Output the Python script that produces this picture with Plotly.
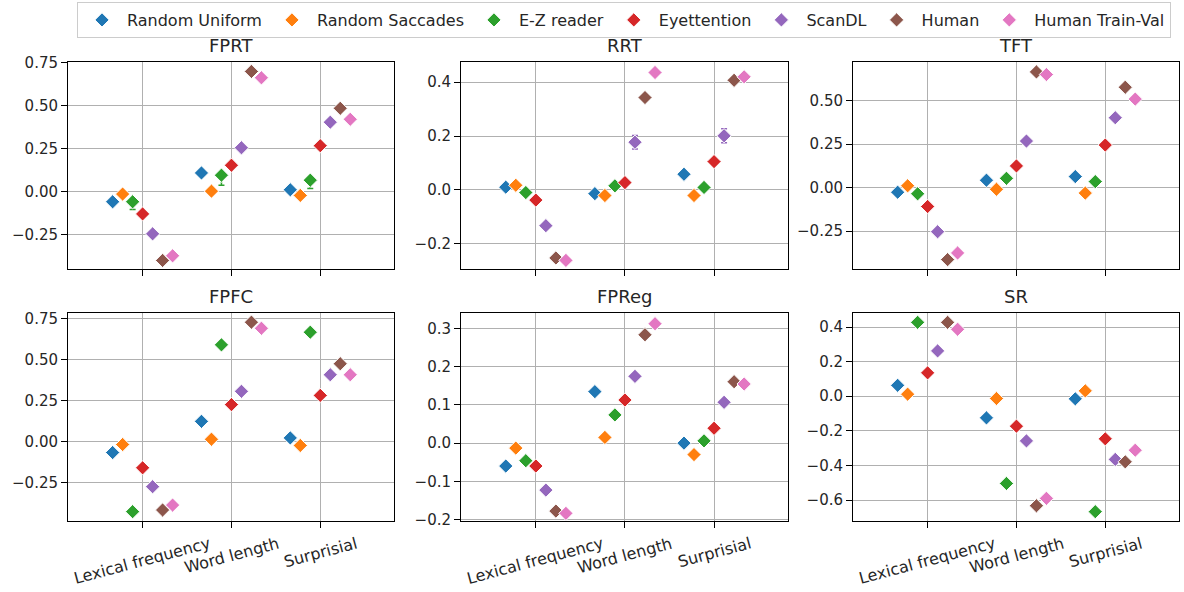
import plotly.graph_objects as go

SERIES = ["Random Uniform", "Random Saccades", "E-Z reader", "Eyettention",
          "ScanDL", "Human", "Human Train-Val"]
COLORS = ["#1f77b4", "#ff7f0e", "#2ca02c", "#d62728", "#9467bd", "#8c564b", "#e377c2"]
CATEGORIES = ["Lexical frequency", "Word length", "Surprisial"]
METRICS = ["FPRT", "RRT", "TFT", "FPFC", "FPReg", "SR"]

# values[series][category]
FPRT = [[-0.060, 0.108, 0.010],
        [-0.015, 0.002, -0.023],
        [-0.060, 0.095, 0.066],
        [-0.131, 0.153, 0.267],
        [-0.247, 0.255, 0.404],
        [-0.402, 0.700, 0.485],
        [-0.375, 0.663, 0.421]]
RRT = [[0.010, -0.014, 0.058],
       [0.017, -0.021, -0.021],
       [-0.010, 0.015, 0.009],
       [-0.038, 0.027, 0.105],
       [-0.133, 0.177, 0.201],
       [-0.253, 0.343, 0.407],
       [-0.262, 0.436, 0.420]]
TFT = [[-0.027, 0.042, 0.063],
       [0.010, -0.010, -0.032],
       [-0.036, 0.053, 0.034],
       [-0.109, 0.124, 0.244],
       [-0.254, 0.267, 0.401],
       [-0.414, 0.664, 0.576],
       [-0.376, 0.649, 0.508]]
FPFC = [[-0.067, 0.123, 0.022],
        [-0.018, 0.014, -0.024],
        [-0.427, 0.589, 0.666],
        [-0.160, 0.225, 0.281],
        [-0.275, 0.306, 0.407],
        [-0.417, 0.727, 0.474],
        [-0.387, 0.690, 0.407]]
FPREG = [[-0.060, 0.135, 0.000],
         [-0.013, 0.015, -0.030],
         [-0.046, 0.074, 0.006],
         [-0.060, 0.113, 0.039],
         [-0.123, 0.175, 0.107],
         [-0.178, 0.284, 0.161],
         [-0.184, 0.313, 0.155]]
SR = [[0.063, -0.125, -0.015],
      [0.012, -0.013, 0.031],
      [0.427, -0.504, -0.667],
      [0.135, -0.173, -0.246],
      [0.262, -0.258, -0.365],
      [0.427, -0.633, -0.379],
      [0.387, -0.590, -0.312]]

# error bars (upper, lower) per series per category
FPRT_ERR_UP = [[0.005, 0.005, 0.005], [0.005, 0.005, 0.005], [0.010, 0.010, 0.010],
               [0.005, 0.005, 0.005], [0.005, 0.005, 0.005], [0.005, 0.005, 0.005],
               [0.005, 0.005, 0.005]]
FPRT_ERR_DN = [[0.005, 0.005, 0.005], [0.005, 0.005, 0.005], [0.045, 0.058, 0.048],
               [0.005, 0.005, 0.005], [0.005, 0.005, 0.005], [0.005, 0.005, 0.005],
               [0.005, 0.005, 0.005]]
RRT_ERR = [[0.003, 0.003, 0.003], [0.003, 0.003, 0.003], [0.003, 0.003, 0.003],
           [0.003, 0.003, 0.003], [0.003, 0.025, 0.026], [0.003, 0.003, 0.003],
           [0.003, 0.003, 0.003]]
SMALL_ERR = [[0.004, 0.004, 0.004], [0.004, 0.004, 0.004], [0.004, 0.004, 0.004],
             [0.004, 0.004, 0.004], [0.004, 0.004, 0.004], [0.004, 0.004, 0.004],
             [0.004, 0.004, 0.004]]

DATA = [FPRT, RRT, TFT, FPFC, FPREG, SR]
ERR_UP = [FPRT_ERR_UP, RRT_ERR, SMALL_ERR, SMALL_ERR, SMALL_ERR, SMALL_ERR]
ERR_DN = [FPRT_ERR_DN, RRT_ERR, SMALL_ERR, SMALL_ERR, SMALL_ERR, SMALL_ERR]
Y_RANGES = [[-0.452, 0.755], [-0.294, 0.475], [-0.468, 0.721],
            [-0.484, 0.783], [-0.204, 0.341], [-0.721, 0.481]]
Y_DTICK = [0.25, 0.2, 0.25, 0.25, 0.1, 0.2]
Y_FMT = [".2f", ".1f", ".2f", ".2f", ".1f", ".1f"]

W, H = 1184, 592
DODGE = 0.1125
X_DOMAINS = [[68 / W, 394 / W], [461 / W, 788 / W], [853 / W, 1179 / W]]
Y_DOMAINS = [[1 - 269 / H, 1 - 62 / H], [1 - 521 / H, 1 - 313 / H]]

FONT = "DejaVu Sans"
fig = go.Figure()

for m in range(6):
    xa = "x" if m == 0 else f"x{m+1}"
    ya = "y" if m == 0 else f"y{m+1}"
    for s in range(7):
        xs = [c + (s - 3) * DODGE for c in range(len(CATEGORIES))]
        fig.add_trace(go.Scatter(
            x=xs, y=DATA[m][s], mode="markers",
            name=SERIES[s], legendgroup=SERIES[s], showlegend=(m == 0),
            xaxis=xa, yaxis=ya,
            marker=dict(symbol="diamond", size=11, color=COLORS[s],
                        line=dict(color="white", width=1)),
            error_y=dict(type="data", symmetric=False,
                         array=ERR_UP[m][s], arrayminus=ERR_DN[m][s],
                         color=COLORS[s], thickness=1.5, width=3),
        ))

annotations = []
for m in range(6):
    row, col = divmod(m, 3)
    suffix = "" if m == 0 else str(m + 1)
    axis_common = dict(showline=True, linecolor="black", linewidth=1, mirror=True,
                       ticks="outside", ticklen=6, tickwidth=1, tickcolor="black",
                       showgrid=True, gridcolor="#b0b0b0", gridwidth=1,
                       zeroline=False)
    fig.layout["xaxis" + suffix] = dict(
        domain=X_DOMAINS[col], anchor="y" + suffix,
        range=[-0.84, 2.83], tickvals=[0, 1, 2], showticklabels=False,
        **axis_common)
    fig.layout["yaxis" + suffix] = dict(
        domain=Y_DOMAINS[row], anchor="x" + suffix,
        range=Y_RANGES[m], dtick=Y_DTICK[m], tick0=0,
        tickformat=Y_FMT[m], tickfont=dict(family=FONT, size=15, color="#262626"),
        **axis_common)
    annotations.append(dict(
        text=METRICS[m], xref=f"x{suffix} domain", yref=f"y{suffix} domain",
        x=0.5, y=1, xanchor="center", yanchor="bottom", yshift=4,
        showarrow=False, font=dict(family=FONT, size=18, color="#262626")))
    if row == 1:
        for c, lab in enumerate(CATEGORIES):
            annotations.append(dict(
                text=lab, xref=f"x{suffix}", yref=f"y{suffix} domain",
                x=c, y=0, xanchor="center", yanchor="top", yshift=-10,
                textangle=-15, showarrow=False,
                font=dict(family=FONT, size=16, color="#262626")))

fig.update_layout(
    width=W, height=H, autosize=False,
    margin=dict(l=0, r=0, t=0, b=0, autoexpand=False),
    paper_bgcolor="white", plot_bgcolor="white",
    annotations=annotations,
    legend=dict(orientation="h", x=77 / W, xanchor="left",
                y=1 - 2 / H, yanchor="top",
                bgcolor="white", bordercolor="#cccccc", borderwidth=1,
                itemwidth=40,
                font=dict(family=FONT, size=16, color="#262626")),
    showlegend=True,
)

fig.write_html("out.html",
               config={"displayModeBar": False},
               post_script="document.body.style.margin='0';"
                           "document.body.style.overflow='hidden';")
